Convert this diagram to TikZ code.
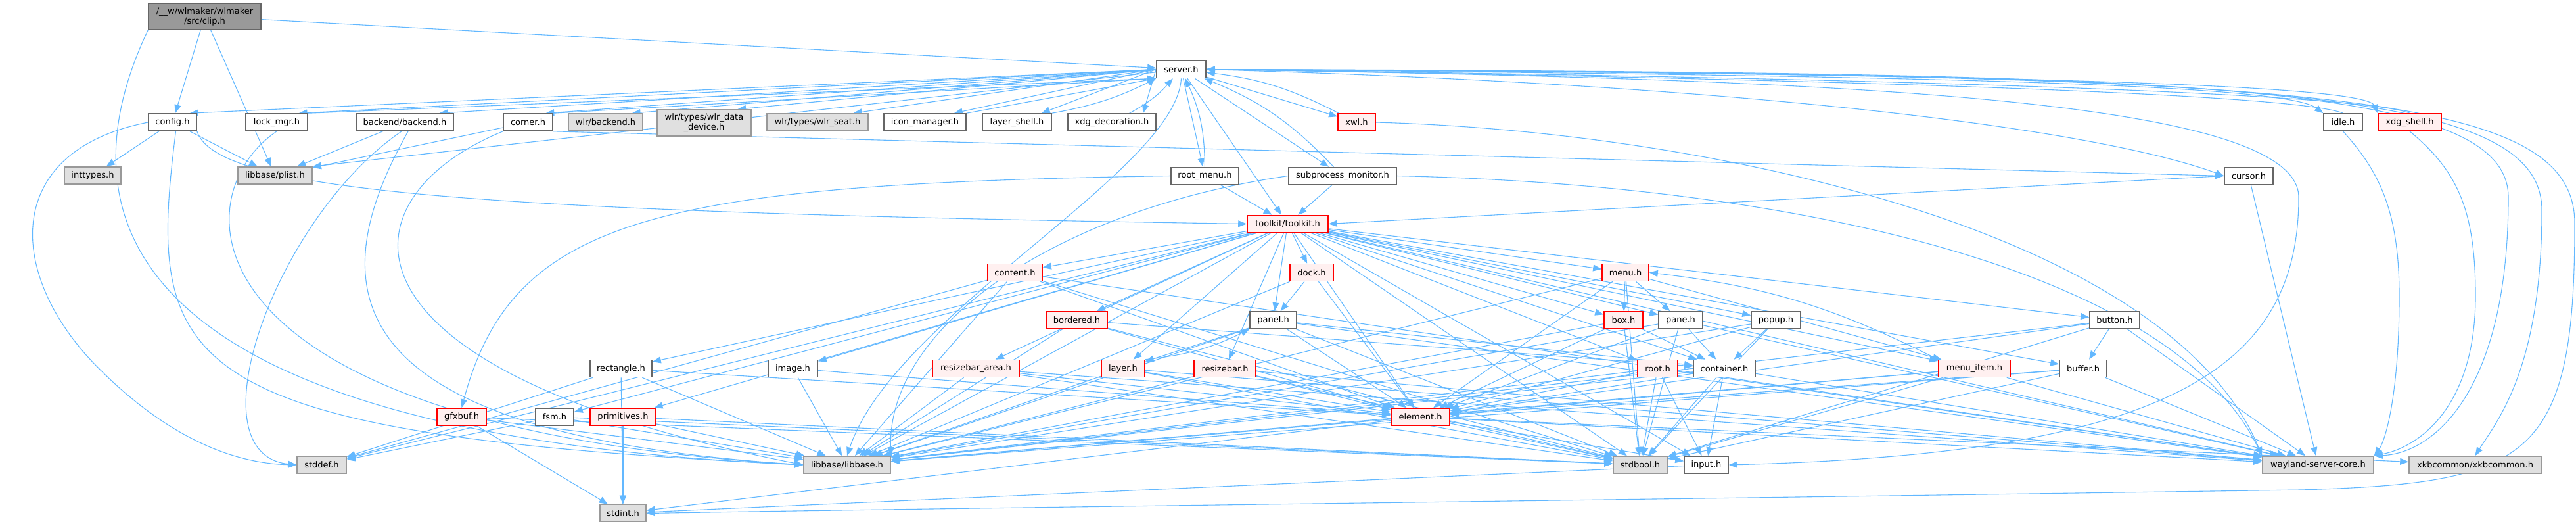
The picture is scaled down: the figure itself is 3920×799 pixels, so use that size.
\documentclass[tikz,border=0pt]{standalone}
\usepackage{fontspec}
\setmainfont{DejaVu Sans}
\usetikzlibrary{arrows.meta,calc}
\definecolor{edgec}{HTML}{63B8FF}
\definecolor{redb}{HTML}{FF0000}
\definecolor{redf}{HTML}{FFF0F0}
\definecolor{grayf}{HTML}{E0E0E0}
\definecolor{grayb}{HTML}{999999}
\definecolor{normb}{HTML}{666666}
\definecolor{rootf}{HTML}{999999}
\pgfdeclarelayer{background}
\pgfsetlayers{background,main}
\tikzset{
  nd/.style={draw=normb, fill=white, line width=0.8pt, minimum height=13pt, inner sep=0pt,
    font=\fontsize{6.5}{7.5}\selectfont, align=center, text=black},
  ext/.style={nd, draw=grayb, fill=grayf},
  trunc/.style={nd, draw=redb, fill=redf},
  rootn/.style={nd, draw=normb, fill=rootf, minimum height=20pt},
  W/.style={minimum width=#1*0.5pt},
  e/.style={draw=edgec, line width=0.55pt, -{Triangle[length=6.5pt,width=5pt]}},
}
\begin{document}
\begin{tikzpicture}[x=0.5pt,y=-0.5pt]
\useasboundingbox (0,0) rectangle (3920,799);
% ---------- nodes ----------
\node[rootn, W=171] (clip) at (311.5,25) {/\_\_w/wlmaker/wlmaker\\/src/clip.h};
\node[nd, W=75] (server) at (1797.5,105.5) {server.h};
\node[nd, W=73] (config) at (262.5,186) {config.h};
\node[nd, W=94] (lockmgr) at (421,186) {lock\_mgr.h};
\node[nd, W=148] (backend) at (616,186) {backend/backend.h};
\node[nd, W=75] (corner) at (803.5,186) {corner.h};
\node[ext, W=113] (wlrbackend) at (921.5,186) {wlr/backend.h};
\node[ext, W=143, minimum height=20pt] (wlrdata) at (1071.5,187) {wlr/types/wlr\_data\\\_device.h};
\node[ext, W=154] (wlrseat) at (1244,186) {wlr/types/wlr\_seat.h};
\node[nd, W=125] (iconmgr) at (1407.5,186) {icon\_manager.h};
\node[nd, W=105] (layershell) at (1547.5,186) {layer\_shell.h};
\node[nd, W=134] (xdgdeco) at (1692,186) {xdg\_decoration.h};
\node[trunc, W=57] (xwl) at (2064.5,186) {xwl.h};
\node[nd, W=59] (idle) at (3565.5,186) {idle.h};
\node[trunc, W=96] (xdgshell) at (3667,186) {xdg\_shell.h};
\node[ext, W=86] (inttypes) at (141,267) {inttypes.h};
\node[ext, W=113] (plist) at (418.5,267) {libbase/plist.h};
\node[nd, W=103] (rootmenu) at (1833.5,267.5) {root\_menu.h};
\node[nd, W=164] (subproc) at (2043,267.5) {subprocess\_monitor.h};
\node[nd, W=74] (cursor) at (3422,267.5) {cursor.h};
\node[trunc, W=123] (toolkit) at (1959.5,340.5) {toolkit/toolkit.h};
\node[trunc, W=83] (content) at (1544.5,414.5) {content.h};
\node[trunc, W=66] (dock) at (1996,414.5) {dock.h};
\node[trunc, W=71] (menu) at (2473.5,414.5) {menu.h};
\node[trunc, W=93] (bordered) at (1638.5,487) {bordered.h};
\node[nd, W=71] (panel) at (1937.5,487) {panel.h};
\node[trunc, W=59] (box) at (2470.5,487) {box.h};
\node[nd, W=67] (pane) at (2557.5,487) {pane.h};
\node[nd, W=75] (popup) at (2702.5,487) {popup.h};
\node[nd, W=76] (button) at (3218,487) {button.h};
\node[nd, W=94] (rectangle) at (945,560.5) {rectangle.h};
\node[nd, W=75] (image) at (1206.5,560.5) {image.h};
\node[trunc, W=132] (rzarea) at (1485,560.5) {resizebar\_area.h};
\node[trunc, W=66] (layer) at (1709,560.5) {layer.h};
\node[trunc, W=94] (rzbar) at (1864,560.5) {resizebar.h};
\node[trunc, W=61] (root) at (2522.5,560.5) {root.h};
\node[nd, W=94] (container) at (2624,560.5) {container.h};
\node[trunc, W=109] (menuitem) at (3004.5,560.5) {menu\_item.h};
\node[nd, W=72] (buffer) at (3170,560.5) {buffer.h};
\node[trunc, W=75] (gfxbuf) at (702.5,634) {gfxbuf.h};
\node[nd, W=58] (fsm) at (844,634) {fsm.h};
\node[trunc, W=100] (primitives) at (948,634) {primitives.h};
\node[trunc, W=89] (element) at (2161.5,634) {element.h};
\node[ext, W=75] (stddef) at (489.5,707) {stddef.h};
\node[ext, W=132] (libbase) at (1289,707) {libbase/libbase.h};
\node[ext, W=82] (stdbool) at (2496,707) {stdbool.h};
\node[nd, W=67] (input) at (2596.5,707) {input.h};
\node[ext, W=169] (wayland) at (3527.5,707) {wayland-server-core.h};
\node[ext, W=201] (xkb) at (3766.5,707) {xkbcommon/xkbcommon.h};
\node[ext, W=70] (stdint) at (948,780.5) {stdint.h};
% ---------- edges ----------
\begin{pgfonlayer}{background}
% clip
\draw[e] (clip) -- (server);
\draw[e] (clip) -- (config);
\draw[e] (clip) -- (plist);
\draw[e] (clip.south west) .. controls (90,330) and (180,660) .. (libbase.west);
% server forward to the top row (arrive near the top right corner)
\foreach \t in {config,lockmgr,backend,corner,wlrbackend,wlrdata,wlrseat,iconmgr,layershell,xdgdeco}
  \draw[e] (server.west) -- ($(\t.north)!0.7!(\t.north east)$);
\foreach \t in {xwl,rootmenu,subproc,toolkit}
  \draw[e] (server) -- (\t);
\draw[e] (server) -- (plist.north east);
\draw[e] (server.south) .. controls (1790,260) and (1360,480) .. (libbase.north);
\draw[e] (server.east) .. controls (3000,115) and (3480,130) .. (idle.north west);
\draw[e] (server.east) .. controls (3100,112) and (3600,130) .. (xdgshell.north west);
\draw[e] (server.east) .. controls (2700,130) and (3200,200) .. (cursor.west);
\draw[e] (server.east) .. controls (3300,110) and (3817,120) .. (3817,300) .. controls (3817,600) and (3700,690) .. (wayland.north east);
\draw[e] (server.east) .. controls (3400,112) and (3868,125) .. (3868,320) .. controls (3868,560) and (3800,640) .. (xkb.north);
\draw[e] (server.east) .. controls (3500,114) and (3918,130) .. (3918,340) .. controls (3918,700) and (3850,735) .. (3500,745) .. controls (2500,760) and (1500,772) .. (stdint.east);
\draw[e] (server.east) .. controls (2800,120) and (3498,150) .. (3498,300) .. controls (3498,560) and (3300,690) .. (input.east);
% back edges into server
\draw[e] (lockmgr.north east) -- (server.south west);
\draw[e] (corner.north east) -- (server.south west);
\draw[e] (iconmgr.north east) -- (server.south west);
\draw[e] (layershell.north east) to[bend right=8] (server.south west);
\draw[e] (xdgdeco) to[bend right=10] (server);
\draw[e] (rootmenu) to[bend right=12] (server);
\draw[e] (subproc) to[bend right=12] (server);
\draw[e] (xwl) to[bend right=10] (server);
\draw[e] (idle.north) .. controls (3500,145) and (2900,122) .. (server.east);
\draw[e] (xdgshell.north) .. controls (3600,145) and (3000,120) .. (server.east);
% top-level others
\draw[e] (config) -- (inttypes);
\draw[e] (config) -- (plist);
\draw[e] (config.290) .. controls (222,560) and (260,660) .. (libbase.west);
\draw[e] (config.south east) .. controls (330,290) and (700,322) .. (toolkit.west);
\draw[e] (config.west) .. controls (0,230) and (10,420) .. (150,560) .. controls (260,670) and (360,705) .. (stddef.west);
\draw[e] (lockmgr.south) .. controls (273,300) and (273,650) .. (libbase.west);
\draw[e] (backend) -- (plist);
\draw[e] (backend.250) .. controls (420,330) and (290,690) .. (stddef.west);
\draw[e] (backend.290) .. controls (480,450) and (520,660) .. (libbase.west);
\draw[e] (corner) -- (plist);
\draw[e] (corner.south west) .. controls (520,300) and (480,560) .. (libbase.west);
\draw[e] (corner.south east) -- (cursor.west);
\draw[e] (rootmenu) -- (toolkit);
\draw[e] (rootmenu.west) .. controls (1000,280) and (780,330) .. (gfxbuf.north);
\draw[e] (subproc) -- (toolkit);
\draw[e] (subproc.west) .. controls (1600,320) and (1350,500) .. (libbase.north east);
\draw[e] (subproc.east) .. controls (2700,280) and (3300,400) .. (wayland.north west);
\draw[e] (xwl.east) .. controls (2600,200) and (3300,350) .. (wayland.north west);
\draw[e] (idle.south) .. controls (3620,260) and (3651,320) .. (3651,450) .. controls (3651,600) and (3630,670) .. (wayland.north east);
\draw[e] (xdgshell.south) .. controls (3740,260) and (3767,320) .. (3767,450) .. controls (3767,620) and (3680,680) .. (wayland.north east);
\draw[e] (cursor) -- (wayland);
\draw[e] (cursor.west) -- (toolkit.east);
% toolkit
\foreach \t in {content,dock,menu,bordered,panel,box,pane,popup,button,rectangle,image,rzarea,layer,rzbar,root,container,menuitem,buffer,fsm,primitives,element,libbase,input,wayland,stdbool,stddef}
  \draw[e] (toolkit) -- (\t);
% toolkit headers
\foreach \s/\t in {content/element,content/libbase,content/stdbool,content/wayland,content/stddef,
  dock/panel,dock/element,dock/libbase,
  menu/box,menu/pane,menu/menuitem,menu/element,menu/libbase,menu/stdbool,
  menuitem/element,menuitem/libbase,menuitem/stdbool,menuitem/wayland,
  bordered/container,bordered/element,bordered/libbase,bordered/stdbool,
  panel/element,panel/container,panel/layer,panel/libbase,panel/stdbool,panel/wayland,
  layer/element,layer/libbase,layer/stdbool,layer/wayland,
  box/container,box/element,box/libbase,box/stdbool,
  pane/container,pane/element,pane/libbase,pane/stdbool,pane/wayland,
  popup/container,popup/element,popup/stdbool,popup/libbase,
  button/buffer,button/element,button/libbase,button/stdbool,button/wayland,
  buffer/element,buffer/libbase,buffer/stdbool,buffer/wayland,
  root/stdbool,root/input,root/libbase,root/element,root/wayland,
  container/element,container/input,container/stdbool,container/libbase,container/wayland,
  rzbar/element,rzbar/libbase,rzbar/stdbool,rzbar/wayland,
  rzarea/element,rzarea/libbase,rzarea/stdbool,rzarea/wayland,
  rectangle/element,rectangle/libbase,rectangle/stdint,rectangle/stddef,
  image/element,image/libbase,
  gfxbuf/libbase,gfxbuf/stdbool,gfxbuf/stdint,
  fsm/libbase,fsm/stdbool,fsm/stddef,
  primitives/libbase,primitives/stdint,primitives/stdbool,
  element/libbase,element/stdbool,element/input,element/wayland,element/xkb,element/stdint,
  input/stdint}
  \draw[e] (\s) -- (\t);
\draw[e] (menuitem.north west) to[bend right=10] (menu.east);
\draw[e] (layer.north east) to[bend right=10] (panel.south west);
\end{pgfonlayer}
\end{tikzpicture}
\end{document}
